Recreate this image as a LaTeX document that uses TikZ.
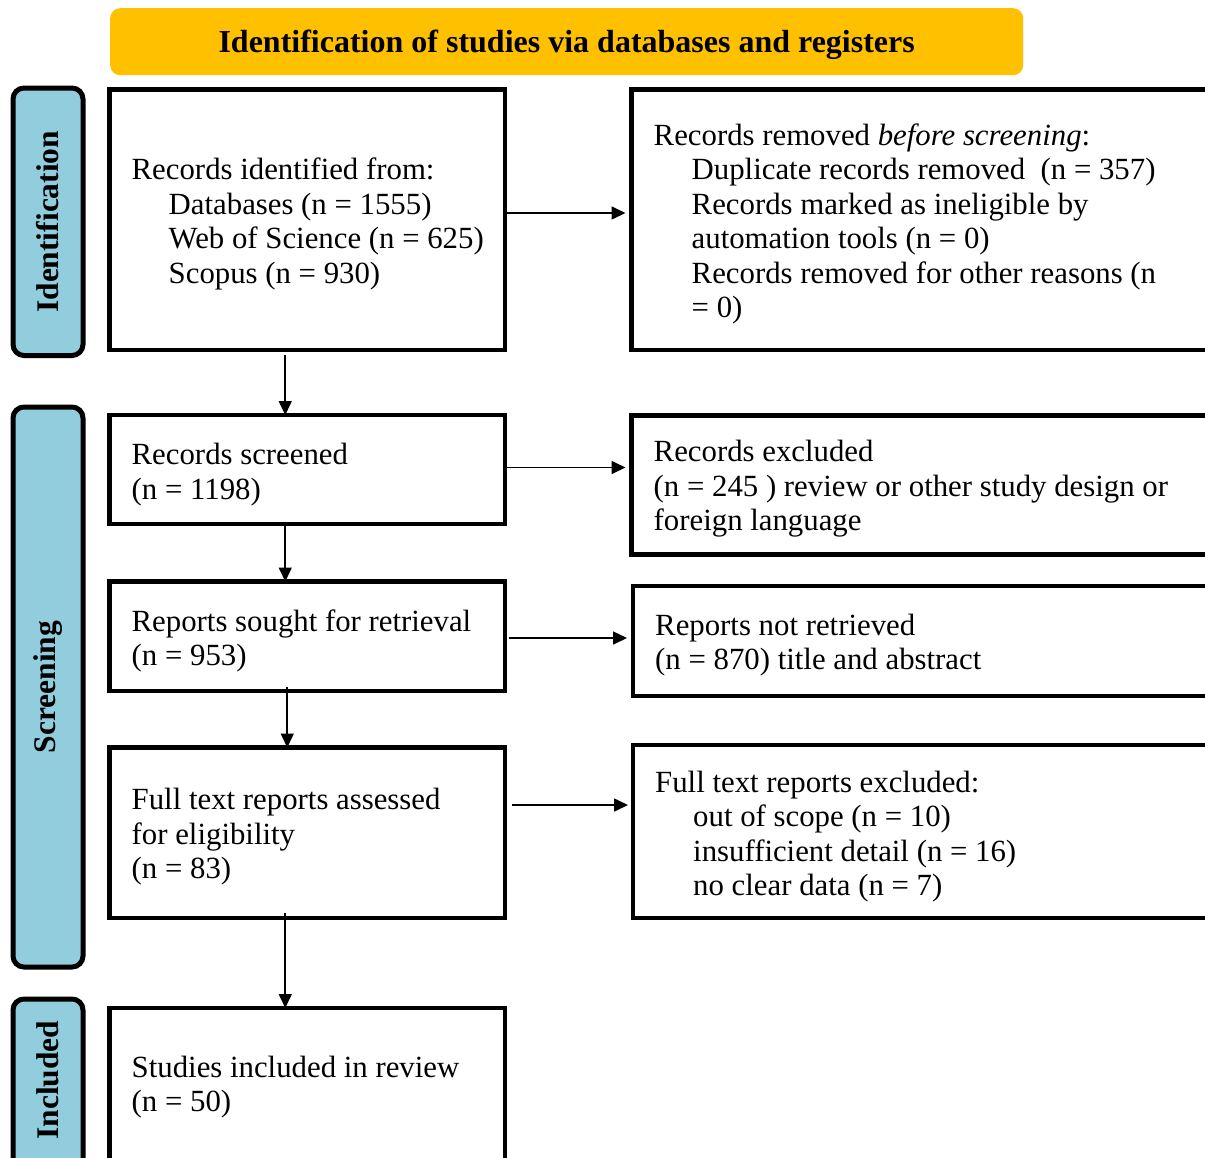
\documentclass[tikz,border=0pt]{standalone}
\usepackage{fontspec}
\setmainfont{Liberation Serif}
\usetikzlibrary{arrows.meta}
\definecolor{bannerC}{RGB}{255,192,0}
\definecolor{barC}{RGB}{146,205,221}
\begin{document}
\begin{tikzpicture}[x=1pt,y=-1pt,
  stagebox/.style={draw=black, line width=4.5pt, rectangle, inner sep=0pt, outer sep=0pt, anchor=north west},
  phasebar/.style={draw=black, fill=barC, line width=5pt, rounded corners=11pt, inner sep=0pt, outer sep=0pt, anchor=north west},
  bodytxt/.style={anchor=west, align=left, inner sep=0pt, font=\fontsize{30.8}{34.5}\selectfont},
  phasetxt/.style={rotate=90, font=\bfseries\fontsize{31.5}{34}\selectfont, inner sep=0pt},
  flow/.style={line width=1.6pt, -{Triangle[length=14pt,width=13pt]}},
]
\useasboundingbox (0,0) rectangle (1205,1157);
\clip (0,0) rectangle (1205,1157);
\fill[white] (0,0) rectangle (1205,1157);

% banner
\node[fill=bannerC, rounded corners=10pt, minimum width=913pt, minimum height=67pt,
      anchor=north west, inner sep=0pt] (banner) at (110,8) {};
\node[font=\bfseries\fontsize{32}{34}\selectfont, inner sep=0pt] (bannertxt)
      at ([yshift=-3pt]banner.center) {Identification of studies via databases and registers};

% phase bars
\node[phasebar, minimum width=70pt, minimum height=267.5pt] (pid) at (13,88) {};
\node[phasetxt] (pidtxt) at (pid.center) {Identification};
\node[phasebar, minimum width=70pt, minimum height=560pt] (pscr) at (13,407) {};
\node[phasetxt] (pscrtxt) at (pscr.center) {Screening};
\node[phasebar, minimum width=70pt, minimum height=171pt] (pinc) at (13,999) {};
\node[phasetxt] (pinctxt) at ([yshift=4.5pt]pinc.center) {Included};

% left boxes
\node[stagebox, minimum width=395.5pt, minimum height=260.5pt] (b1) at (109.5,89.5) {};
\node[bodytxt] (t1) at ([xshift=22pt,yshift=-4pt]b1.west) {Records identified from:\\
\hspace*{37pt}Databases (n = 1555)\\
\hspace*{37pt}Web of Science (n = 625)\\
\hspace*{37pt}Scopus (n = 930)};

\node[stagebox, minimum width=395.5pt, minimum height=109pt] (b2) at (109.5,415) {};
\node[bodytxt] (t2) at ([xshift=22pt,yshift=-5pt]b2.west) {Records screened\\(n = 1198)};

\node[stagebox, minimum width=395.5pt, minimum height=109.5pt] (b3) at (109.5,581.5) {};
\node[bodytxt] (t3) at ([xshift=22pt,yshift=-4.5pt]b3.west) {Reports sought for retrieval\\(n = 953)};

\node[stagebox, minimum width=395.5pt, minimum height=170.5pt] (b4) at (109.5,747.5) {};
\node[bodytxt] (t4) at ([xshift=22pt,yshift=-4pt]b4.west) {Full text reports assessed\\for eligibility\\(n = 83)};

\node[stagebox, minimum width=395.5pt, minimum height=153pt] (b5) at (109.5,1008) {};
\node[bodytxt] (t5) at ([xshift=22pt,yshift=-2.5pt]b5.west) {Studies included in review\\(n = 50)};

% right boxes
\node[stagebox, minimum width=600pt, minimum height=260.5pt] (r1) at (631.5,89.5) {};
\node[bodytxt] (u1) at ([xshift=22pt,yshift=-4pt]r1.west) {Records removed \textit{before screening}:\\
\hspace*{38pt}Duplicate records removed\ \ (n = 357)\\
\hspace*{38pt}Records marked as ineligible by\\
\hspace*{38pt}automation tools (n = 0)\\
\hspace*{38pt}Records removed for other reasons (n\\
\hspace*{38pt}= 0)};

\node[stagebox, minimum width=600pt, minimum height=139pt] (r2) at (631.5,415.5) {};
\node[bodytxt] (u2) at ([xshift=22pt,yshift=-4pt]r2.west) {Records excluded\\(n = 245 ) review or other study design or\\foreign language};

\node[stagebox, minimum width=600pt, minimum height=110pt] (r3) at (633,586) {};
\node[bodytxt] (u3) at ([xshift=22pt,yshift=-4pt]r3.west) {Reports not retrieved\\(n = 870) title and abstract};

\node[stagebox, minimum width=600pt, minimum height=173pt] (r4) at (633,745) {};
\node[bodytxt] (u4) at ([xshift=22pt,yshift=-5pt]r4.west) {Full text reports excluded:\\
\hspace*{38pt}out of scope (n = 10)\\
\hspace*{38pt}insufficient detail (n = 16)\\
\hspace*{38pt}no clear data (n = 7)};

% vertical connectors
\draw[flow, shorten <=5pt] ([xshift=-22pt]b1.south) -- ([xshift=-22pt]b2.north);
\draw[flow] ([xshift=-22pt]b2.south) -- ([xshift=-22pt]b3.north);
\draw[flow, shorten <=-4pt] ([xshift=-20pt]b3.south) -- ([xshift=-20pt]b4.north);
\draw[flow, shorten <=-5pt] ([xshift=-22pt]b4.south) -- ([xshift=-22pt]b5.north);

% horizontal connectors
\draw[flow, shorten >=6pt] ([yshift=6.75pt]b1.east) -- ([yshift=6.75pt]b1.east -| r1.west);
\draw[flow, shorten >=6pt] ([yshift=2pt]b2.east) -- ([yshift=2pt]b2.east -| r2.west);
\draw[flow, shorten <=3.5pt, shorten >=6pt] ([yshift=-1.75pt]b3.east) -- ([yshift=-1.75pt]b3.east -| r3.west);
\draw[flow, shorten <=7pt, shorten >=5pt] ([yshift=27.75pt]b4.east) -- ([yshift=27.75pt]b4.east -| r4.west);
\end{tikzpicture}
\end{document}
